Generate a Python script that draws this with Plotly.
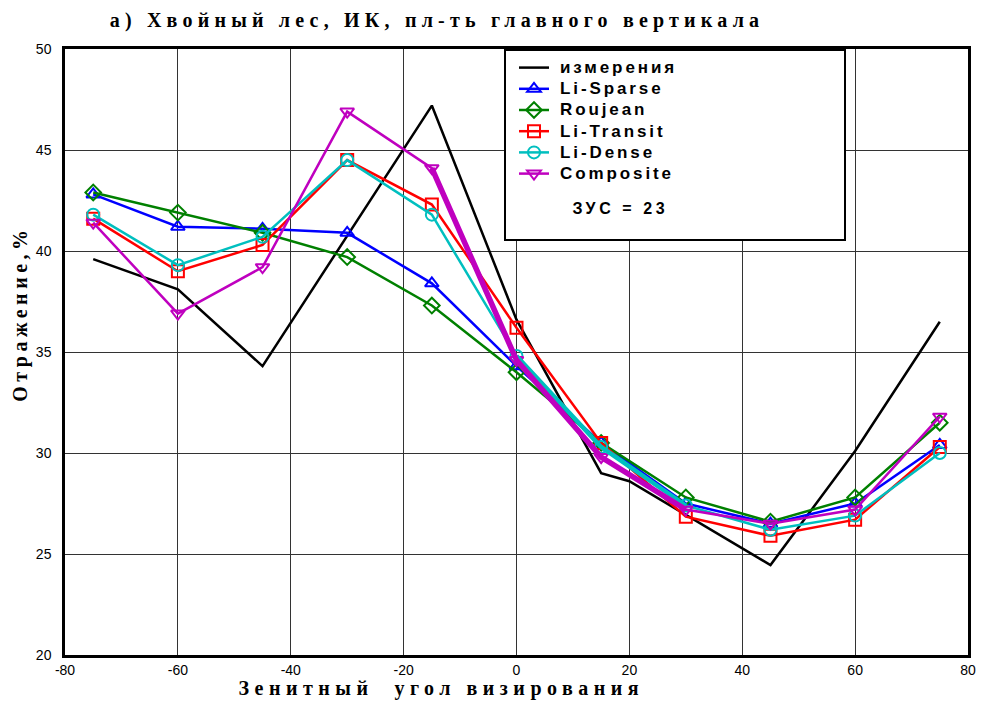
import plotly.graph_objects as go

# ---- data ----
meas_x = [-75, -60, -45, -15, 0, 15, 20, 45, 60, 75]
meas_y = [39.6, 38.1, 34.3, 47.2, 36.6, 29.0, 28.6, 24.45, 30.1, 36.5]

angles = [-75, -60, -45, -30, -15, 0, 15, 30, 45, 60, 75]
li_sparse = [42.8, 41.2, 41.1, 40.9, 38.4, 34.3, 30.5, 27.5, 26.5, 27.5, 30.4]
roujean = [42.9, 41.9, 40.9, 39.7, 37.3, 34.0, 30.5, 27.8, 26.6, 27.8, 31.5]
li_transit = [41.6, 39.0, 40.3, 44.5, 42.3, 36.2, 30.5, 26.85, 25.9, 26.7, 30.3]
li_dense = [41.8, 39.3, 40.7, 44.5, 41.8, 34.8, 30.3, 27.4, 26.2, 26.9, 30.0]
composite = [41.4, 36.9, 39.2, 46.9, 44.1, 34.6, 29.8, 27.2, 26.5, 27.2, 31.8]

x_ticks = [-80, -60, -40, -20, 0, 20, 40, 60, 80]
y_ticks = [20, 25, 30, 35, 40, 45, 50]

title_text = "а) Хвойный лес, ИК, пл-ть главного вертикала"
x_title = "Зенитный  угол визирования"
y_title = "Отражение,%"
zus_text = "ЗУС = 23"

SANS = "Liberation Sans, Arial, sans-serif"
SERIF = "Liberation Serif, Times New Roman, serif"

fig = go.Figure()

fig.add_trace(go.Scatter(x=meas_x, y=meas_y, mode="lines", name="измерения",
                         line=dict(color="black", width=2.5)))

series = [
    ("Li-Sparse", li_sparse, "#0000ff", "triangle-up-open"),
    ("Roujean", roujean, "#008000", "diamond-open"),
    ("Li-Transit", li_transit, "#ff0000", "square-open"),
    ("Li-Dense", li_dense, "#00bfbf", "circle-open"),
    ("Composite", composite, "#bf00bf", "triangle-down-open"),
]
for name, vals, col, sym in series:
    fig.add_trace(go.Scatter(
        x=angles, y=vals, mode="lines+markers", name=name,
        line=dict(color=col, width=2.5),
        marker=dict(symbol=sym, size=12, color=col, line=dict(width=2, color=col)),
    ))

# thicker overlapping segments seen in the reference
fig.add_trace(go.Scatter(x=angles[5:8], y=li_dense[5:8], mode="lines", showlegend=False,
                         line=dict(color="#00bfbf", width=4.5), hoverinfo="skip"))
fig.add_trace(go.Scatter(x=angles[4:8], y=composite[4:8], mode="lines", showlegend=False,
                         line=dict(color="#bf00bf", width=5.5), hoverinfo="skip"))

L, R, T, B = 65, 14, 49, 49
W, H = 982, 704
pw, ph = W - L - R, H - T - B


def px(xp):
    return (xp - L) / pw


def py(yp):
    return (H - B - yp) / ph


fig.update_layout(
    width=W, height=H,
    margin=dict(l=L, r=R, t=T, b=B, autoexpand=False),
    paper_bgcolor="white", plot_bgcolor="white",
    showlegend=True,
    legend=dict(x=px(514), y=py(52), xanchor="left", yanchor="top",
                bgcolor="rgba(0,0,0,0)", borderwidth=0,
                font=dict(family=SANS, size=14, color="black", weight="bold"),
                itemwidth=30, tracegroupgap=0),
    title=dict(text=title_text, x=px(437), xref="paper", xanchor="center",
               y=1 - 20 / H, yref="container", yanchor="middle",
               font=dict(family=SERIF, size=20, color="black", weight="bold")),
    xaxis=dict(range=[-80, 80], tickvals=x_ticks, ticktext=[str(v) for v in x_ticks],
               showgrid=True, gridcolor="#333333", gridwidth=1, zeroline=False,
               showline=True, linecolor="black", linewidth=2.5, mirror=True,
               ticks="", automargin=False,
               tickfont=dict(family=SANS, size=14, color="black")),
    yaxis=dict(range=[20, 50], tickvals=y_ticks, ticktext=[str(v) for v in y_ticks],
               showgrid=True, gridcolor="#333333", gridwidth=1, zeroline=False,
               showline=True, linecolor="black", linewidth=2.5, mirror=True,
               ticks="", ticklabelstandoff=8, automargin=False,
               tickfont=dict(family=SANS, size=14, color="black")),
    shapes=[dict(type="rect", xref="paper", yref="paper",
                 x0=px(505), x1=px(845), y0=py(240), y1=py(50),
                 line=dict(color="black", width=2), fillcolor="white", layer="above")],
    annotations=[
        dict(text=zus_text, xref="paper", yref="paper", x=px(620), y=py(209),
             xanchor="center", yanchor="middle", showarrow=False,
             font=dict(family=SANS, size=16, color="black", weight="bold")),
        dict(text=x_title, xref="paper", yref="paper", x=px(441), y=py(689),
             xanchor="center", yanchor="middle", showarrow=False,
             font=dict(family=SERIF, size=20, color="black", weight="bold")),
        dict(text=y_title, xref="paper", yref="paper", x=px(20), y=py(314),
             xanchor="center", yanchor="middle", showarrow=False, textangle=-90,
             font=dict(family=SERIF, size=20, color="black", weight="bold")),
    ],
)

post = """
var st = document.createElement('style');
st.innerHTML = 'body{margin:0;padding:0;overflow:hidden;}'
 + '.gtitle{letter-spacing:5.2px;}'
 + '.legend .scrollbox{clip-path:none !important;}'
 + '.legendtext{letter-spacing:2.9px; font-size:17px !important; transform:translateX(6px);}'
 + '.annotation[data-index="0"] .annotation-text{letter-spacing:3.6px;}'
 + '.annotation[data-index="1"] .annotation-text{letter-spacing:5.5px;}'
 + '.annotation[data-index="2"] .annotation-text{letter-spacing:4.5px;}';
document.head.appendChild(st);
"""

fig.write_html("out.html", post_script=post, config={"displayModeBar": False})
